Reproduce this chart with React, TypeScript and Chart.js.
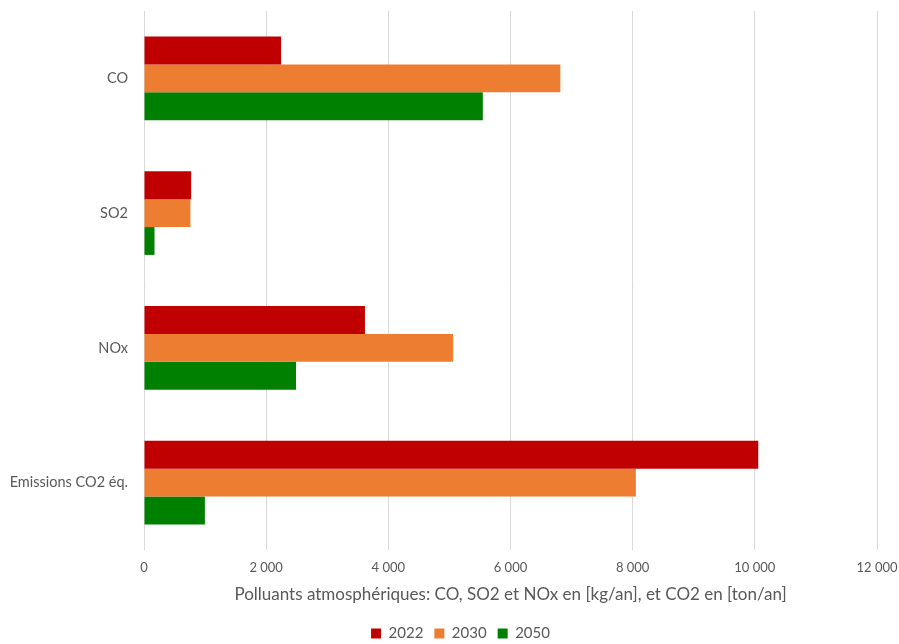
import React, { useEffect, useRef } from "react";
import { Chart, registerables } from "chart.js";

Chart.register(...registerables);

const categories = ["CO", "SO2", "NOx", "Emissions CO2 éq."];
const series2022 = [2244, 772, 3617, 10056];
const series2030 = [6816, 760, 5061, 8052];
const series2050 = [5547, 172, 2489, 997];
const seriesLabels = ["2022", "2030", "2050"];
const seriesColors = ["#C00000", "#ED7D31", "#008000"];
const xTicksMax = 12000;
const xTickStep = 2000;
const xTitle = "Polluants atmosphériques: CO, SO2 et NOx en [kg/an], et CO2 en [ton/an]";

const FONT = "Lato, 'Open Sans', sans-serif";
const GREY = "#595959";

function fmt(v: number): string {
  return Math.round(v).toString().replace(/\B(?=(\d{3})+(?!\d))/g, " ");
}

const legendShift = {
  id: "legendShift",
  afterLayout(chart: any) {
    const lg = chart.legend;
    if (!lg) return;
    lg.left += 44;
    lg.top += 7;
    lg.bottom += 7;
  },
};

export default function App() {
  const ref = useRef<HTMLCanvasElement | null>(null);
  useEffect(() => {
    if (!ref.current) return;
    const values = [series2022, series2030, series2050];
    const chart = new Chart(ref.current, {
      type: "bar",
      data: {
        labels: categories,
        datasets: seriesLabels.map((l, i) => ({
          label: l,
          data: values[i],
          backgroundColor: seriesColors[i],
          borderWidth: 0,
          categoryPercentage: 0.62,
          barPercentage: 1,
        })),
      },
      plugins: [legendShift],
      options: {
        indexAxis: "y",
        animation: false,
        responsive: false,
        maintainAspectRatio: false,
        layout: { padding: { left: 0, right: 22, top: 11, bottom: 0 } },
        plugins: {
          tooltip: { enabled: false },
          legend: {
            position: "bottom",
            labels: {
              font: { family: FONT, size: 15 },
              color: GREY,
              boxWidth: 10,
              boxHeight: 10,
              padding: 11,
            },
          },
        },
        scales: {
          x: {
            min: 0,
            max: xTicksMax,
            ticks: {
              stepSize: xTickStep,
              color: GREY,
              font: { family: FONT, size: 13 },
              padding: 10,
              callback: (v: any) => fmt(Number(v)),
              maxRotation: 0,
            },
            grid: { color: "#D9D9D9", drawTicks: false, lineWidth: 1 },
            border: { display: false },
            title: {
              display: true,
              text: xTitle,
              color: GREY,
              font: { family: FONT, size: 17 },
              padding: { top: 8, bottom: 3 },
            },
            afterFit: (s: any) => {
              s.height = 58;
              s.paddingLeft = 0;
              s.paddingRight = 0;
            },
          },
          y: {
            ticks: {
              color: GREY,
              font: { family: FONT, size: 14.5 },
              padding: 16,
            },
            grid: { display: false, drawTicks: false },
            border: { display: false },
            afterFit: (s: any) => {
              s.width = 144;
              s.paddingTop = 0;
              s.paddingBottom = 0;
            },
          },
        },
      },
    });
    return () => chart.destroy();
  }, []);
  return (
    <div style={{ position: "fixed", left: 0, top: 0, width: 899, height: 644, background: "#fff" }}>
      <canvas ref={ref} width={899} height={644} style={{ width: 899, height: 644 }} />
    </div>
  );
}
